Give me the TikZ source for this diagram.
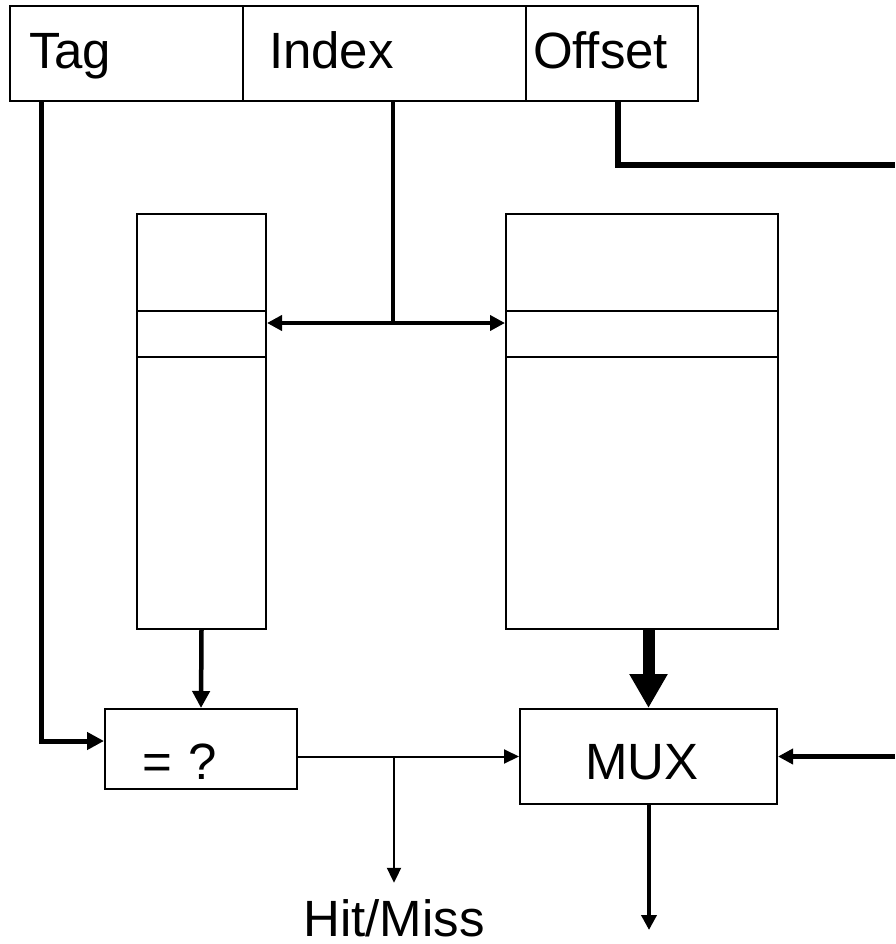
\documentclass[tikz,border=0pt]{standalone}
\usepackage{fontspec}
\setmainfont{Liberation Sans}
\usetikzlibrary{arrows.meta}
\begin{document}
\begin{tikzpicture}[x=1pt, y=-1pt,
  big/.style={font=\fontsize{51}{60}\selectfont},
  fld/.style={draw, line width=2pt, anchor=north west, minimum height=95pt, align=left,
              inner ysep=0pt, text height=38pt, text depth=8pt, big},
  cell/.style={draw, line width=2pt, anchor=north west, inner sep=0pt},
  blk/.style={draw, line width=2pt, inner sep=0pt, align=left, text depth=0pt, big},
  ar/.style={-{Triangle[length=17pt, width=17pt]}},
  arthin/.style={line width=2pt, -{Triangle[length=15pt, width=14pt]}},
  arbig/.style={line width=12pt, -{Triangle[length=34pt, width=36pt]}},
]
\useasboundingbox (0,0) rectangle (895,944);
\node[fld, text width=195pt, inner xsep=19pt] (tagf) at (9,5) {Tag};
\node[fld, text width=231pt, inner xsep=26pt] (idxf) at (242,5) {Index};
\node[fld, text width=158pt, inner xsep=7pt] (offf) at (525,5) {Offset};

\node[cell, minimum width=129pt, minimum height=97pt] (tagtop) at (136,213) {};
\node[cell, minimum width=129pt, minimum height=46pt] (tagrow) at (136,310) {};
\node[cell, minimum width=129pt, minimum height=272pt] (tagbot) at (136,356) {};
\node[cell, minimum width=272pt, minimum height=97pt] (datatop) at (505,213) {};
\node[cell, minimum width=272pt, minimum height=46pt] (datarow) at (505,310) {};
\node[cell, minimum width=272pt, minimum height=272pt] (databot) at (505,356) {};

\node[blk, minimum width=192pt, minimum height=80pt, text width=118pt, text height=60pt] (eq) at (201,749) {= ?};
\node[blk, minimum width=257pt, minimum height=95pt, text width=127pt, text height=45pt] (mux) at (648.5,756.5) {MUX};
\node[big, anchor=base, inner sep=0pt, text height=37pt, text depth=0pt] (hit) at (394,936) {Hit/Miss};

\coordinate (split) at (393,323);
\coordinate (offend) at (895,165);
\coordinate (offin) at (895,756.5);
\coordinate (out) at (649,930);

\draw[line width=5pt, ar] ([xshift=32pt]tagf.south west) |- ([yshift=8pt]eq.west);
\draw[line width=4.5pt] (idxf.south -| split) -- (split);
\draw[line width=4.5pt, {Triangle[length=15pt, width=15pt]}-{Triangle[length=15pt, width=15pt]}]
  (tagrow.east |- split) -- (datarow.west |- split);
\draw[line width=6pt] ([xshift=6pt]offf.south) |- (offend);
\draw[line width=4.5pt, ar] (tagbot.south) -- (eq.north);
\draw[arbig] (mux.north |- databot.south) -- (mux.north);
\draw[line width=5pt, -{Triangle[length=15pt, width=15pt]}] (offin) -- (mux.east);
\draw[arthin] (eq.east |- mux.west) -- (mux.west);
\draw[arthin, shorten >=16pt] (hit.north |- mux.west) -- (hit.north);
\draw[line width=4.5pt, -{Triangle[length=15pt, width=15pt]}] (mux.south -| out) -- (out);
\end{tikzpicture}
\end{document}
